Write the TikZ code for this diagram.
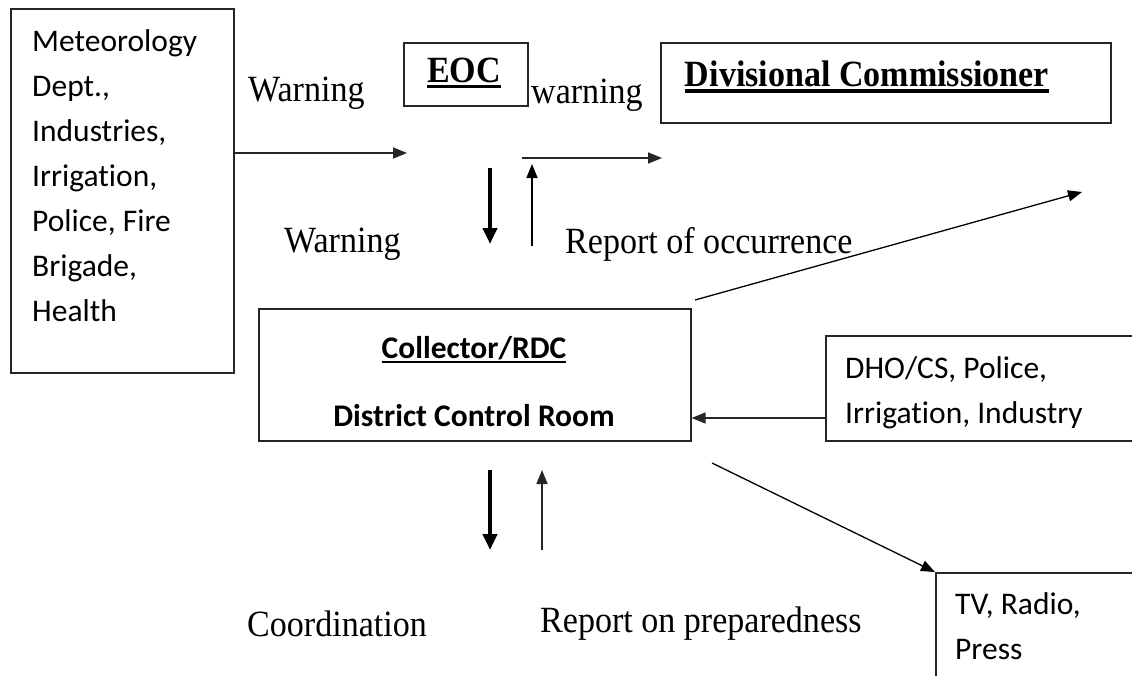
\documentclass[tikz,border=0pt]{standalone}
\usepackage{fontspec}
\setmainfont{Liberation Serif}[FakeStretch=0.92]
\newfontfamily\calib[Ligatures=NoCommon]{Carlito}
\usetikzlibrary{arrows.meta,calc}
\newcommand\thickul[3]{\setbox0\hbox{#3}\rlap{\rule[-#1]{\wd0}{#2}}\box0}
\tikzset{
  box/.style={draw=black!85, line width=1.6pt, inner sep=0pt},
  serif/.style={font=\fontsize{37}{42}\selectfont, inner sep=0pt},
  serifb/.style={font=\fontsize{37}{42}\selectfont\bfseries, inner sep=0pt},
  sans/.style={font=\calib\fontsize{31.5}{45}\selectfont, inner sep=0pt, align=left},
  sansb/.style={font=\calib\fontsize{31.5}{45}\selectfont\bfseries, inner sep=0pt},
  thin/.style={line width=1.6pt, draw=black!85, -{Triangle[length=14pt,width=11pt]}},
  thick/.style={line width=4pt, -{Triangle[length=16pt,width=14pt]}},
}
\begin{document}
\begin{tikzpicture}[x=1pt,y=-1pt]
\clip (0,0) rectangle (1132,675);
\fill[white] (0,0) rectangle (1132,675);
% boxes
\node[box, anchor=north west, minimum width=223pt, minimum height=364pt] (src) at (10,8) {};
\node[sans, anchor=north west] (srctxt) at (32,29) {Meteorology\\Dept.,\\Industries,\\Irrigation,\\Police, Fire\\Brigade,\\Health};
\node[box, anchor=north west, minimum width=124pt, minimum height=63pt] (eoc) at (403,42) {};
\node[serifb] (eoctxt) at (464,73) {\thickul{6pt}{3.5pt}{EOC}};
\node[box, anchor=north west, minimum width=450pt, minimum height=80pt] (div) at (660,42) {};
\node[serifb] (divtxt) at (867,77) {\thickul{6pt}{3.5pt}{Divisional Commissioner}};
\node[box, anchor=north west, minimum width=432pt, minimum height=132pt] (col) at (258,308) {};
\node[sansb] (coltxt) at (474,350) {\thickul{4.5pt}{2.5pt}{Collector/RDC}};
\node[sansb] (dcr) at (474,416) {District Control Room};
\node[box, anchor=north west, minimum width=330pt, minimum height=105pt] (dho) at (825,335) {};
\node[sans, anchor=north west] (dhotxt) at (845,356) {DHO/CS, Police,\\Irrigation, Industry};
\node[box, anchor=north west, minimum width=230pt, minimum height=130pt] (tv) at (935,572) {};
\node[sans, anchor=north west] (tvtxt) at (955,592) {TV, Radio,\\Press};
% labels
\node[serif, anchor=west] (w1) at (248,93) {Warning};
\node[serif, anchor=west] (w2) at (531,95) {warning};
\node[serif, anchor=west] (w3) at (284,244) {Warning};
\node[serif, anchor=west] (roo) at (565,244) {Report of occurrence};
\node[serif, anchor=west] (coord) at (247,624) {Coordination};
\node[serif, anchor=west] (rop) at (540,624) {Report on preparedness};
% coordinates
\coordinate (a1) at (407,153);
\coordinate (b0) at (522,158);
\coordinate (b1) at (662,158);
\coordinate (c0) at (490,168);
\coordinate (c1) at (490,244);
\coordinate (d0) at (532,246);
\coordinate (d1) at (532,164);
\coordinate (e0) at (695,300);
\coordinate (e1) at (1082,192);
\coordinate (f0) at (490,470);
\coordinate (f1) at (490,550);
\coordinate (g0) at (542,550);
\coordinate (g1) at (542,470);
\coordinate (h0) at (712,463);
% arrows
\draw[thin] (src.east |- a1) -- (a1);
\draw[thin] (b0) -- (b1);
\draw[thick] (c0) -- (c1);
\draw[thin, draw=black] (d0) -- (d1);
\draw[thin, draw=black, line width=1.3pt] (e0) -- (e1);
\draw[thin] (dho.west |- 0,418) -- (col.east |- 0,418);
\draw[thick] (f0) -- (f1);
\draw[thin] (g0) -- (g1);
\draw[thin, draw=black, line width=1.3pt] (h0) -- (tv.north west);
\end{tikzpicture}
\end{document}
